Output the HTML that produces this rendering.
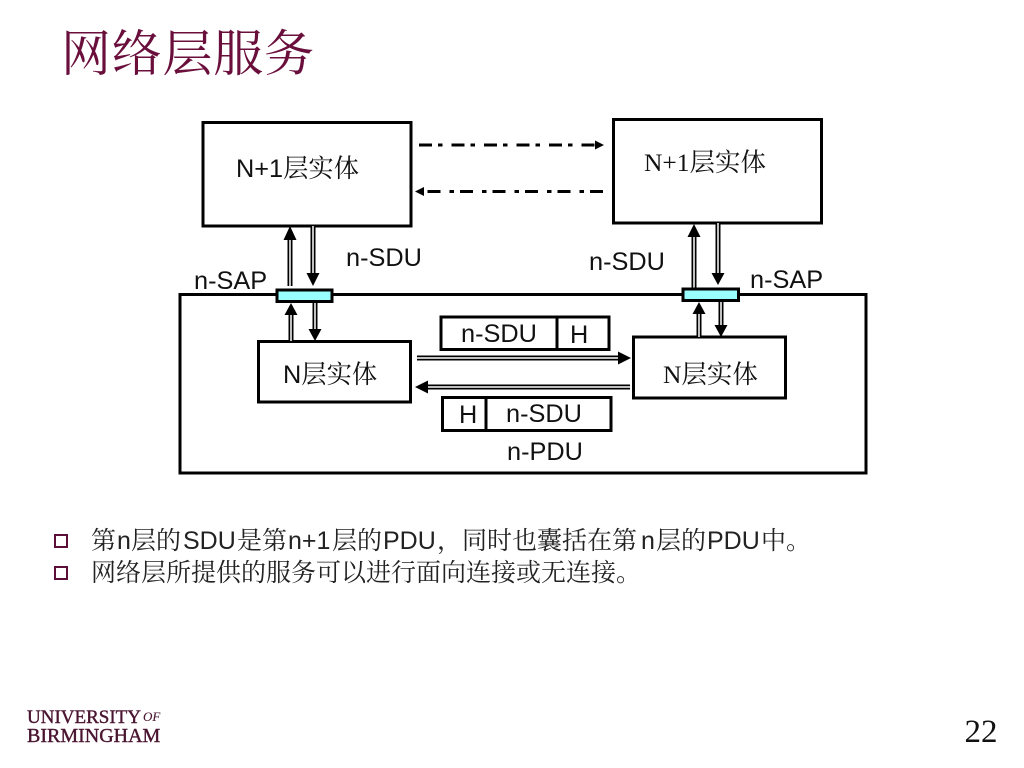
<!DOCTYPE html>
<html><head><meta charset="utf-8">
<style>
html,body{margin:0;padding:0;background:#fff;width:1024px;height:768px;overflow:hidden}
svg{display:block}
.a{font-family:"Liberation Sans","Noto Serif CJK SC",serif;font-size:25.300px;fill:#111}
.t{font-family:"Liberation Serif","Noto Serif CJK SC",serif;font-size:25.500px;fill:#111}
.c{font-family:"Liberation Sans","Noto Serif CJK SC",serif;font-size:25px;fill:#222}
.l{font-family:"Liberation Serif",serif;fill:#4a1530;stroke:#4a1530;stroke-width:.4px}
</style></head><body>
<svg width="1024" height="768" viewBox="0 0 1024 768" xmlns="http://www.w3.org/2000/svg">
<rect width="1024" height="768" fill="#fff"/>
<text x="61" y="71" font-family="'Noto Serif CJK SC',serif" font-size="50" fill="#6a0f3c" textLength="253">网络层服务</text>

<g fill="#fff" stroke="#000" stroke-width="3">
<rect x="180" y="294.500" width="686" height="178.500"/>
<rect x="203" y="122.500" width="208" height="103.500"/>
<rect x="613.500" y="119.500" width="208" height="103.500"/>
<rect x="258.500" y="341.500" width="152" height="60.500"/>
<rect x="633.500" y="337" width="152" height="61"/>
<rect x="441" y="317" width="168" height="32.500"/>
<rect x="442.500" y="397.500" width="168.500" height="33"/>
</g>
<path d="M557 317V349M486 397V431" stroke="#000" stroke-width="3" fill="none"/>

<g stroke="#000" stroke-width="5" fill="none">
<path d="M290 286V236M313 226V278M291 341V312M315 303V331M694 288V234M718 223V276M699 337V311M721 302V328"/>
<path d="M417 358H620M630 387H425"/>
</g>
<g stroke="#fff" stroke-width="1.500" fill="none">
<path d="M290 286V236M313 226V278M291 341V312M315 303V331M694 288V234M718 223V276M699 337V311M721 302V328"/>
<path d="M417 358H620M630 387H425"/>
</g>
<g fill="#000">
<path d="M290 226l-6.500 14h13zM313 286l-6.500-13h13zM291 303l-6.500 12h13zM315 341l-6.500-12h13zM694 224l-6.500 13h13zM718 285l-6.500-12h13zM699 302l-6.500 12h13zM721 337l-6.500-12h13z"/>
<path d="M631 358l-13-6.500v13zM415 387l13-6.500v13z"/>
<path d="M604 145l-9-4.500v9zM415 191.500l9-4.500v9z"/>
</g>
<g stroke="#000" stroke-width="3" fill="none" stroke-dasharray="13 6 4.500 9">
<path d="M419 145H597"/>
<path d="M603 191.500H425"/>
</g>
<g fill="#99ffff" stroke="#000" stroke-width="3">
<rect x="277" y="290" width="55" height="11.500"/>
<rect x="683" y="289" width="55.500" height="11.500"/>
</g>

<text class="a" x="236" y="177">N+1层实体</text>
<text class="t" x="644" y="171">N+1层实体</text>
<text class="a" x="283" y="383">N层实体</text>
<text class="t" x="663" y="383">N层实体</text>
<text class="a" x="346" y="266">n-SDU</text>
<text class="a" x="589" y="270">n-SDU</text>
<text class="a" x="194" y="289">n-SAP</text>
<text class="a" x="750" y="288">n-SAP</text>
<text class="a" x="461" y="342">n-SDU</text>
<text class="a" x="570" y="343">H</text>
<text class="a" x="459" y="423">H</text>
<text class="a" x="506" y="422">n-SDU</text>
<text class="a" x="507" y="460">n-PDU</text>

<rect x="55" y="535" width="12" height="12" fill="none" stroke="#5a1038" stroke-width="2"/>
<rect x="55" y="567" width="12" height="12" fill="none" stroke="#5a1038" stroke-width="2"/>
<text class="c" y="549"><tspan x="91">第</tspan><tspan x="117">n</tspan><tspan x="131">层的</tspan><tspan x="183">SDU</tspan><tspan x="237">是第</tspan><tspan x="288">n+1</tspan><tspan x="332">层的</tspan><tspan x="383">PDU</tspan><tspan x="437">，同时也囊括在第</tspan><tspan x="641">n</tspan><tspan x="656">层的</tspan><tspan x="707">PDU</tspan><tspan x="761">中。</tspan></text>
<text class="c" x="91" y="581">网络层所提供的服务可以进行面向连接或无连接。</text>

<text class="l" x="27" y="723" font-size="19">UNIVERSITY</text>
<text class="l" x="143" y="721" font-size="13" font-style="italic" style="stroke-width:.1px">OF</text>
<text class="l" x="27" y="742" font-size="20">BIRMINGHAM</text>
<text x="964.500" y="742" font-family="'Liberation Serif',serif" font-size="33" fill="#111">22</text>
</svg>
</body></html>
